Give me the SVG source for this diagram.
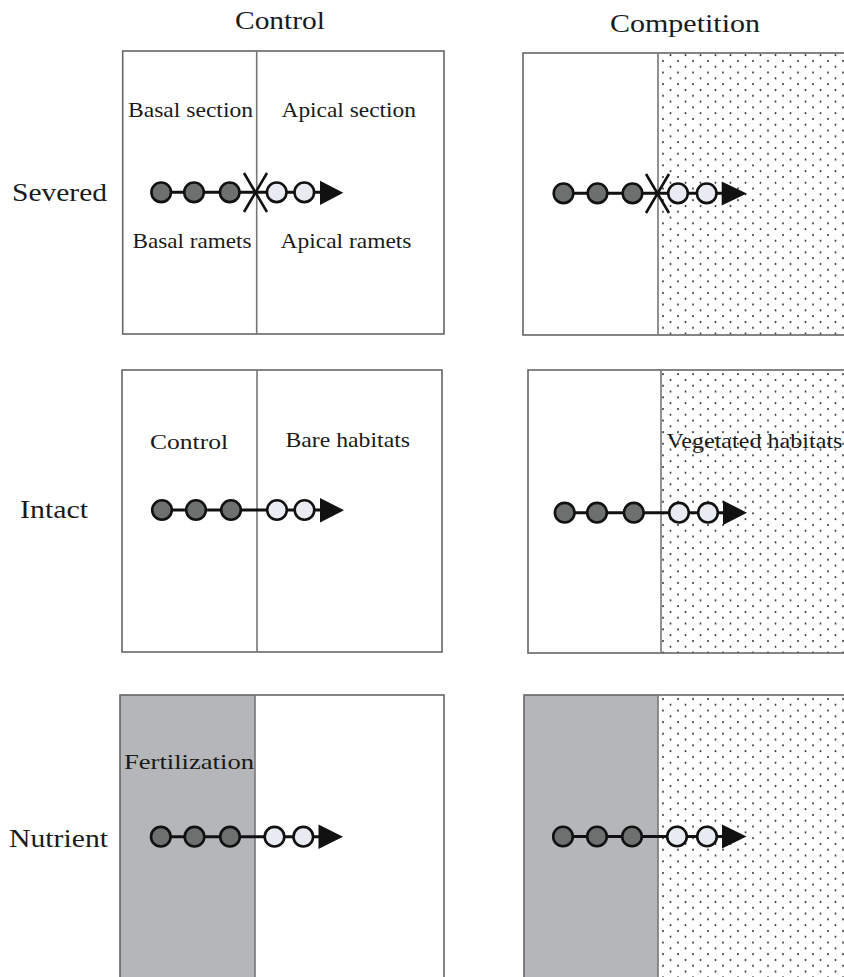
<svg xmlns="http://www.w3.org/2000/svg" width="844" height="977" viewBox="0 0 844 977">
<style>
.t{font-family:"Liberation Serif","Times New Roman",serif;fill:#1a1a1a}
.hd{font-size:26px}
.lb{font-size:21px}
.box{fill:none;stroke:#666;stroke-width:1.6}
.div{stroke:#777;stroke-width:1.6}
.grey{fill:#b4b6b9}
.dots{fill:url(#dotpat)}
.stem{stroke:#111;stroke-width:3;fill:none}
.dk{fill:#6c706f;stroke:#111;stroke-width:2.6}
.lt{fill:#e9ebf2;stroke:#111;stroke-width:2.6}
.tip{fill:#111}
.cut{stroke:#111;stroke-width:2.6;fill:none}
</style>
<defs>
<pattern id="dotpat" patternUnits="userSpaceOnUse" width="15" height="11.6">
<circle cx="3" cy="3" r="1" fill="#333"/>
<circle cx="10.5" cy="8.8" r="1" fill="#333"/>
</pattern>
</defs>
<rect width="844" height="977" fill="#fff"/>

<g id="headers">
<text class="t hd" x="235" y="29" textLength="90" lengthAdjust="spacingAndGlyphs">Control</text>
<text class="t hd" x="610" y="32" textLength="150" lengthAdjust="spacingAndGlyphs">Competition</text>
<text class="t hd" x="12" y="201" textLength="95" lengthAdjust="spacingAndGlyphs">Severed</text>
<text class="t hd" x="20" y="518" textLength="68" lengthAdjust="spacingAndGlyphs">Intact</text>
<text class="t hd" x="9" y="847" textLength="99" lengthAdjust="spacingAndGlyphs">Nutrient</text>
</g>

<g id="panel-severed-control">
<rect class="box" x="122.7" y="51" width="321.3" height="283"/>
<line class="div" x1="256.7" y1="51" x2="256.7" y2="334"/>
<text class="t lb" x="128" y="116.5" textLength="125" lengthAdjust="spacingAndGlyphs">Basal section</text>
<text class="t lb" x="281.5" y="116.5" textLength="134.5" lengthAdjust="spacingAndGlyphs">Apical section</text>
<text class="t lb" x="132.5" y="248" textLength="119" lengthAdjust="spacingAndGlyphs">Basal ramets</text>
<text class="t lb" x="280.5" y="248" textLength="131" lengthAdjust="spacingAndGlyphs">Apical ramets</text>
</g>

<g id="panel-severed-competition">
<rect class="dots" x="658" y="53" width="190" height="282"/>
<rect class="box" x="523" y="53" width="330" height="282"/>
<line class="div" x1="658" y1="53" x2="658" y2="335"/>
</g>

<g id="panel-intact-control">
<rect class="box" x="122" y="370" width="320" height="282"/>
<line class="div" x1="257" y1="370" x2="257" y2="652"/>
<text class="t lb" x="150" y="449" textLength="78" lengthAdjust="spacingAndGlyphs">Control</text>
<text class="t lb" x="285.5" y="447" textLength="124.5" lengthAdjust="spacingAndGlyphs">Bare habitats</text>
</g>

<g id="panel-intact-competition">
<rect class="dots" x="661" y="370" width="190" height="283"/>
<rect class="box" x="528" y="370" width="330" height="283"/>
<line class="div" x1="661" y1="370" x2="661" y2="653"/>
<text class="t lb" x="666.5" y="448" textLength="176" lengthAdjust="spacingAndGlyphs">Vegetated habitats</text>
</g>

<g id="panel-nutrient-control">
<rect class="grey" x="120" y="695" width="135" height="290"/>
<rect class="box" x="120" y="695" width="324" height="290"/>
<line class="div" x1="255" y1="695" x2="255" y2="985"/>
<text class="t lb" x="124" y="769" textLength="130" lengthAdjust="spacingAndGlyphs">Fertilization</text>
</g>

<g id="panel-nutrient-competition">
<rect class="grey" x="524" y="695" width="134" height="290"/>
<rect class="dots" x="658" y="695" width="190" height="290"/>
<rect class="box" x="524" y="695" width="330" height="290"/>
<line class="div" x1="658" y1="695" x2="658" y2="985"/>
</g>

<g id="connectors">
<line class="stem" x1="161" y1="192.3" x2="322" y2="192.3"/>
<line class="stem" x1="563.5" y1="193.3" x2="724" y2="193.3"/>
<line class="stem" x1="161" y1="510" x2="322" y2="510"/>
<line class="stem" x1="564.7" y1="512.7" x2="725" y2="512.7"/>
<line class="stem" x1="160.8" y1="836.7" x2="320" y2="836.7"/>
<line class="stem" x1="563" y1="836.5" x2="724" y2="836.5"/>
</g>

<g id="chain-severed-control">
<circle class="dk" cx="161.2" cy="192.3" r="9.8"/>
<circle class="dk" cx="194" cy="192.3" r="9.8"/>
<circle class="dk" cx="229.7" cy="192.3" r="9.8"/>
<circle class="lt" cx="276.7" cy="192.3" r="9.8"/>
<circle class="lt" cx="304.3" cy="192.3" r="9.8"/>
<polygon class="tip" points="320,180.7 343.3,192.8 320,205"/>
<path class="cut" d="M244,173 L267,212 M267,173 L244,212"/>
</g>

<g id="chain-severed-competition">
<circle class="dk" cx="563.5" cy="193.3" r="9.8"/>
<circle class="dk" cx="597.5" cy="193.3" r="9.8"/>
<circle class="dk" cx="632.5" cy="193.3" r="9.8"/>
<circle class="lt" cx="678" cy="193.3" r="9.8"/>
<circle class="lt" cx="706.7" cy="193.3" r="9.8"/>
<polygon class="tip" points="721.7,181.5 746.7,193.5 721.7,205.5"/>
<path class="cut" d="M646,174 L669,213 M669,174 L646,213"/>
</g>

<g id="chain-intact-control">
<circle class="dk" cx="162" cy="510" r="9.8"/>
<circle class="dk" cx="196" cy="510" r="9.8"/>
<circle class="dk" cx="231" cy="510" r="9.8"/>
<circle class="lt" cx="277" cy="510" r="9.8"/>
<circle class="lt" cx="304.5" cy="510" r="9.8"/>
<polygon class="tip" points="320,498 344,510.2 320,522.5"/>
</g>

<g id="chain-intact-competition">
<circle class="dk" cx="564.7" cy="512.7" r="9.8"/>
<circle class="dk" cx="597" cy="512.7" r="9.8"/>
<circle class="dk" cx="633.8" cy="512.7" r="9.8"/>
<circle class="lt" cx="679" cy="512.7" r="9.8"/>
<circle class="lt" cx="708" cy="512.7" r="9.8"/>
<polygon class="tip" points="723,500.5 747,512.7 723,525"/>
</g>

<g id="chain-nutrient-control">
<circle class="dk" cx="160.8" cy="836.7" r="9.8"/>
<circle class="dk" cx="194.5" cy="836.7" r="9.8"/>
<circle class="dk" cx="230" cy="836.7" r="9.8"/>
<circle class="lt" cx="274.5" cy="836.7" r="9.8"/>
<circle class="lt" cx="303.3" cy="836.7" r="9.8"/>
<polygon class="tip" points="318.5,824.5 343,836.7 318.5,849"/>
</g>

<g id="chain-nutrient-competition">
<circle class="dk" cx="563" cy="836.5" r="9.8"/>
<circle class="dk" cx="597" cy="836.5" r="9.8"/>
<circle class="dk" cx="632" cy="836.5" r="9.8"/>
<circle class="lt" cx="677" cy="836.5" r="9.8"/>
<circle class="lt" cx="707" cy="836.5" r="9.8"/>
<polygon class="tip" points="722,824.5 746.5,836.5 722,848.5"/>
</g>
</svg>
